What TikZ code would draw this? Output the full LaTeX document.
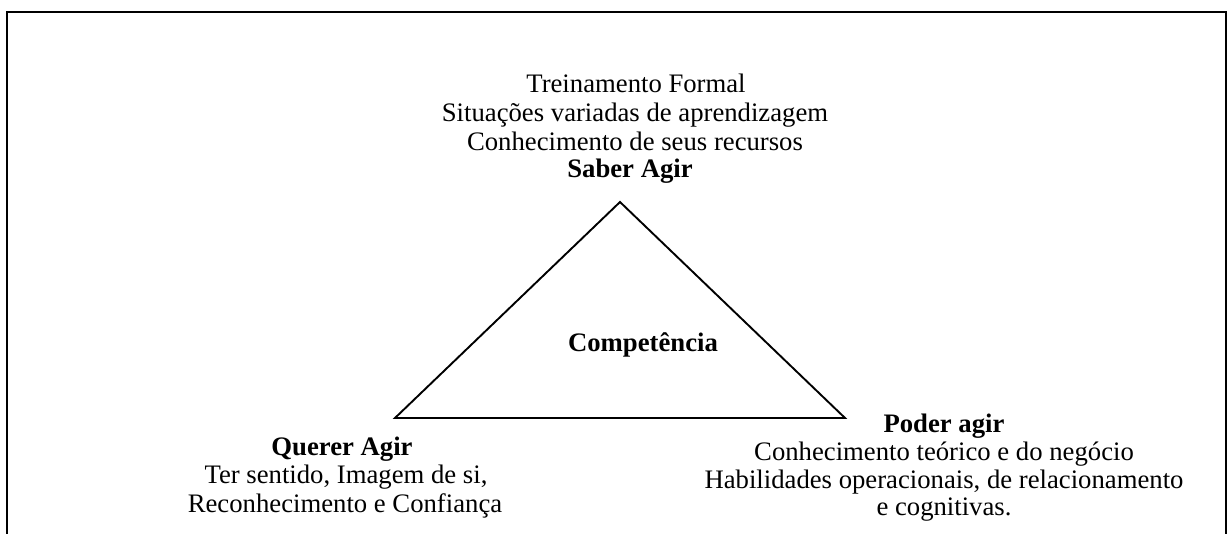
\documentclass[tikz,border=0pt]{standalone}
\usepackage{fontspec}
\setmainfont{Liberation Serif}
\begin{document}
\begin{tikzpicture}[x=1pt,y=-1pt,
  txt/.style={anchor=base,inner sep=0pt,font=\fontsize{26.7}{28.5}\selectfont},
  btxt/.style={txt,font=\fontsize{26.7}{28.5}\selectfont\bfseries},
  tri/.style={line width=1.9pt,line join=miter}]
\useasboundingbox (0,0) rectangle (1228,534);
% frame (open at bottom)
\draw[line width=2pt] (7,534) -- (7,12) -- (1226,12);
\draw[line width=1.2pt] (1226,11) -- (1226,534);
% triangle
\coordinate (apex) at (620,202);
\coordinate (bl) at (395,418);
\coordinate (br) at (845,418);
\draw[tri] (apex) -- (bl) -- (br) -- cycle;
% top labels
\node[txt] (t1) at (636,93) {Treinamento Formal};
\node[txt] (t2) at (635,122) {Situações variadas de aprendizagem};
\node[txt] (t3) at (635,151) {Conhecimento de seus recursos};
\node[btxt] (saber) at (630,178) {Saber Agir};
% center
\node[btxt] (comp) at (643,352) {Competência};
% left
\node[btxt] (querer) at (342,455) {Querer Agir};
\node[txt] (q1) at (346,483) {Ter sentido, Imagem de si,};
\node[txt] (q2) at (345,512) {Reconhecimento e Confiança};
% right
\node[btxt] (poder) at (944,432) {Poder agir};
\node[txt] (p1) at (944,460) {Conhecimento teórico e do negócio};
\node[txt] (p2) at (944,488) {Habilidades operacionais, de relacionamento};
\node[txt] (p3) at (944,515) {e cognitivas.};
\end{tikzpicture}
\end{document}
